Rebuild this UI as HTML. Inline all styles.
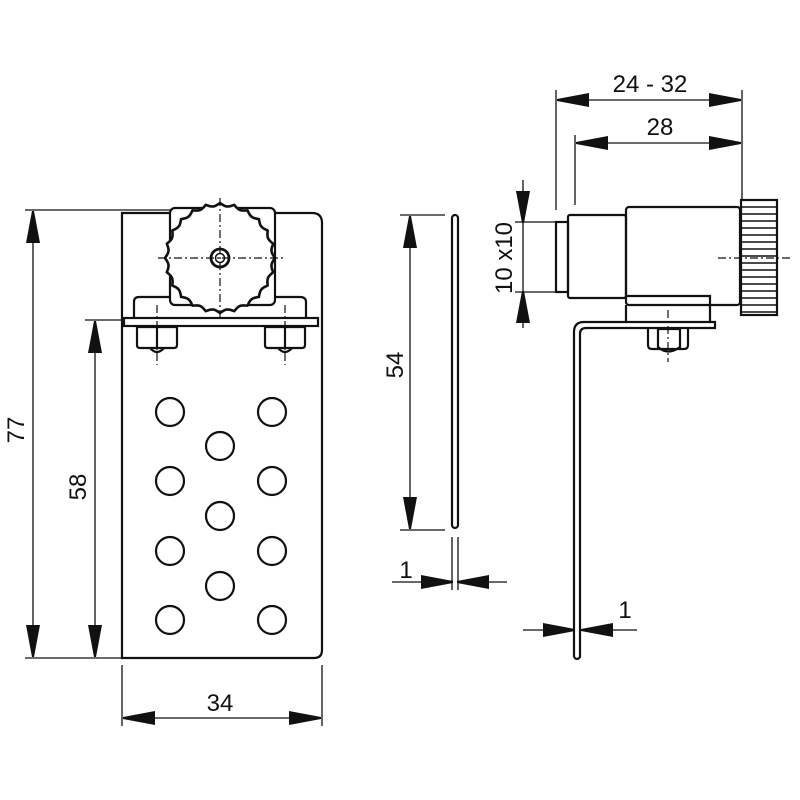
<!DOCTYPE html>
<html><head><meta charset="utf-8"><style>
html,body{margin:0;padding:0;background:#fff}
svg{display:block}
text{font-family:"Liberation Sans",Arial,sans-serif;font-size:24px;fill:#111}
</style></head><body>
<svg id="s" width="800" height="800" viewBox="0 0 800 800" xmlns="http://www.w3.org/2000/svg">
<defs>
<marker id="a" markerWidth="32" markerHeight="14" refX="31" refY="7" orient="auto-start-reverse" markerUnits="userSpaceOnUse">
<path d="M0,0 L32,6 L32,8 L0,14 Z" fill="#111"/></marker>
</defs>
<g fill="none" stroke="#111" stroke-width="2.2">
<path d="M122,213 H312 Q322,213 322,223 V650 Q322,658 314,658 H122 Z"/>
<path d="M134,318 V302 Q134,297 139,297 H300 Q306,297 306,302 V318"/>
<rect x="124" y="318" width="194" height="8"/>
<rect x="170" y="208" width="105" height="97" rx="5" fill="#fff"/>
<path id="knob" d="" fill="#fff" stroke-width="2.6"/>
<circle cx="220" cy="258" r="9" stroke-width="2.8"/>
<circle cx="220" cy="258" r="4.5" stroke-width="1.5"/>
<path d="M137,327 H177 V345 Q177,348 174,348 H140 Q137,348 137,345 Z M157,327 V348 M150,348 Q157,356 164,348"/>
<path d="M265,327 H305 V345 Q305,348 302,348 H268 Q265,348 265,345 Z M285,327 V348 M278,348 Q285,356 292,348"/>
<circle cx="170" cy="412" r="14"/><circle cx="272" cy="412" r="14"/>
<circle cx="170" cy="481" r="14"/><circle cx="272" cy="481" r="14"/>
<circle cx="170" cy="551" r="14"/><circle cx="272" cy="551" r="14"/>
<circle cx="170" cy="620" r="14"/><circle cx="272" cy="620" r="14"/>
<circle cx="220" cy="446" r="14"/><circle cx="220" cy="516" r="14"/><circle cx="220" cy="586" r="14"/>
</g>
<g stroke="#111" stroke-width="1.2" stroke-dasharray="8,3,2,3" fill="none">
<path d="M220,198 V318 M158,258 H284 M157,305 V365 M285,305 V365"/>
<path d="M668,310 V362 M718,258 H790"/>
</g>
<g stroke="#111" stroke-width="1.3" fill="none">
<path d="M25,210 H170 M25,658 H122 M85,320 H125"/>
<path d="M33,212 V656" marker-start="url(#a)" marker-end="url(#a)"/>
<path d="M95,322 V656" marker-start="url(#a)" marker-end="url(#a)"/>
<path d="M122,665 V726 M322,665 V726"/>
<path d="M124,718 H320" marker-start="url(#a)" marker-end="url(#a)"/>
<path d="M400,215 H445 M400,530 H445"/>
<path d="M410,217 V528" marker-start="url(#a)" marker-end="url(#a)"/>
<path d="M452,537 V590 M458,537 V590"/>
<path d="M392,582 H452" marker-end="url(#a)"/>
<path d="M507,582 H458" marker-end="url(#a)"/>
<path d="M523,630 H574" marker-end="url(#a)"/>
<path d="M637,630 H582" marker-end="url(#a)"/>
<path d="M556,90 V210 M742,90 V200 M575,135 V205"/>
<path d="M558,100 H740" marker-start="url(#a)" marker-end="url(#a)"/>
<path d="M577,143 H740" marker-start="url(#a)" marker-end="url(#a)"/>
<path d="M515,222 H556 M515,292 H556"/>
<path d="M523,180 V222" marker-end="url(#a)"/>
<path d="M523,328 V292" marker-end="url(#a)"/>
<path d="M523,222 V292"/>
</g>
<g fill="none" stroke="#111" stroke-width="2.2">
<rect x="452" y="215" width="6" height="313" rx="3"/>
<path d="M574,657 V332 Q574,322 584,322 H715 V328 H586 Q580,328 580,334 V657 Q577,661 574,657"/>
<rect x="556" y="222" width="12" height="70"/>
<rect x="568" y="215" width="58" height="83" rx="2"/>
<rect x="626" y="207" width="114" height="98" rx="3"/>
<path d="M626,305 V322 M626,296 H710 V322"/>
<path d="M658,329 H680 V347 Q668,356 658,347 Z M648,329 V345 Q648,349 652,349 M688,329 V345 Q688,349 684,349 M652,349 H684"/>
<g id="knurl"><rect x="741" y="200" width="36" height="115"/></g>
</g>
<text x="650" y="92" text-anchor="middle" font-size="26">24 - 32</text>
<text x="660" y="135" text-anchor="middle" font-size="26">28</text>
<text transform="translate(512,258) rotate(-90)" text-anchor="middle" font-size="25">10 x10</text>
<text transform="translate(403,365) rotate(-90)" text-anchor="middle" font-size="26">54</text>
<text transform="translate(24,430) rotate(-90)" text-anchor="middle" font-size="26">77</text>
<text transform="translate(86,487) rotate(-90)" text-anchor="middle" font-size="26">58</text>
<text x="220" y="711" text-anchor="middle" font-size="26">34</text>
<text x="406" y="578" text-anchor="middle" font-size="26">1</text>
<text x="625" y="618" text-anchor="middle" font-size="26">1</text>
</svg>
<script>
(function(){
 var cx=220,cy=258,d="";
 for(var i=0;i<=720;i++){var t=i*Math.PI/360;var r=55-3*Math.abs(Math.sin(t*12));
 d+=(i?"L":"M")+(cx+r*Math.cos(t)).toFixed(1)+","+(cy+r*Math.sin(t)).toFixed(1);}
 document.getElementById("knob").setAttribute("d",d+"Z");
 var g=document.getElementById("knurl"),ns="http://www.w3.org/2000/svg";
 for(var y=207;y<315;y+=7){var l=document.createElementNS(ns,"path");
 l.setAttribute("d","M741,"+y+" H777");l.setAttribute("stroke-width","1.6");g.appendChild(l);}
})();
</script>
</body></html>
